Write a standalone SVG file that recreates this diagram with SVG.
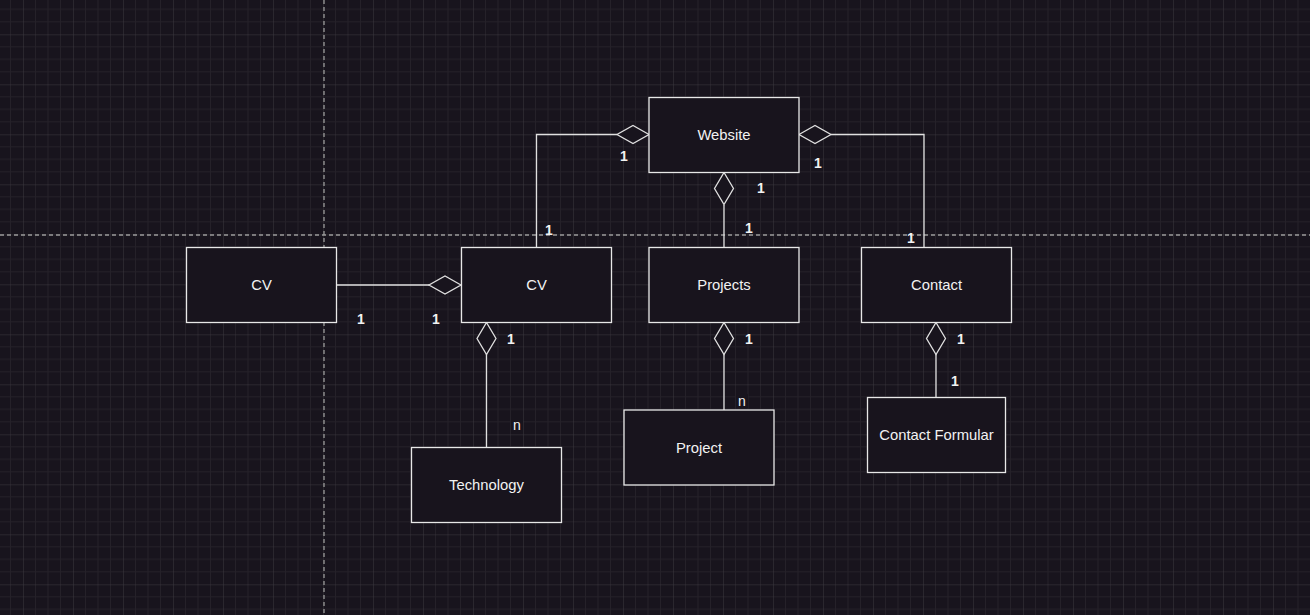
<svg xmlns="http://www.w3.org/2000/svg" width="1310" height="615" viewBox="0 0 1310 615">
<defs>
<pattern id="grid" x="23" y="34.3" width="50" height="50" patternUnits="userSpaceOnUse">
<path d="M12.5 0V50M25 0V50M37.5 0V50M0 12.5H50M0 25H50M0 37.5H50" stroke="#252129" stroke-width="1" fill="none"/>
<path d="M0 0V50M0 0H50" stroke="#3c3940" stroke-width="1" fill="none"/>
</pattern>
<style>
.box{fill:#18141d;stroke:#e8e8e8;stroke-width:1.3}
.lbl{font-family:"Liberation Sans",Arial,sans-serif;font-size:14.8px;fill:#f2f2f2;text-anchor:middle}
.card{font-family:"Liberation Sans",Arial,sans-serif;font-size:14px;font-weight:bold;fill:#f2f2f2;text-anchor:middle}
.cardn{font-family:"Liberation Sans",Arial,sans-serif;font-size:14px;fill:#f2f2f2;text-anchor:middle}
.ln{fill:none;stroke:#e0e0e0;stroke-width:1.3}
.dia{fill:#18141d;stroke:#e0e0e0;stroke-width:1.3}
.guide{stroke:#9a9a9a;stroke-width:1.3;stroke-dasharray:4 3;fill:none}
</style>
</defs>
<rect width="1310" height="615" fill="#18141d"/>
<rect width="1310" height="615" fill="url(#grid)"/>
<g id="guides">
<line class="guide" x1="324" y1="0" x2="324" y2="615"/>
<line class="guide" x1="0" y1="235" x2="1310" y2="235"/>
</g>
<g id="connectors">
<path class="ln" d="M536.5 247V134.5H617"/>
<path class="dia" d="M649 134.5L633 125.5L617 134.5L633 143.5Z"/>
<path class="ln" d="M924 247V134.5H831"/>
<path class="dia" d="M799 134.5L815 125.5L831 134.5L815 143.5Z"/>
<path class="ln" d="M724 247V205"/>
<path class="dia" d="M724 172.5L733.5 188.5L724 204.5L714.5 188.5Z"/>
<path class="ln" d="M336.5 285H429"/>
<path class="dia" d="M461 285L445 276L429 285L445 294Z"/>
<path class="ln" d="M486.5 354V447"/>
<path class="dia" d="M486.5 322.5L496 338.5L486.5 354.5L477 338.5Z"/>
<path class="ln" d="M724 354V410"/>
<path class="dia" d="M724 322.5L733.5 338.5L724 354.5L714.5 338.5Z"/>
<path class="ln" d="M936 354V397"/>
<path class="dia" d="M936 322.5L945.5 338.5L936 354.5L926.5 338.5Z"/>
<text class="card" x="624" y="161">1</text>
<text class="card" x="818" y="168">1</text>
<text class="card" x="761" y="193">1</text>
<text class="card" x="749" y="233">1</text>
<text class="card" x="549" y="235">1</text>
<text class="card" x="911" y="243">1</text>
<text class="card" x="361" y="324">1</text>
<text class="card" x="436" y="324">1</text>
<text class="card" x="511" y="344">1</text>
<text class="card" x="749" y="344">1</text>
<text class="card" x="961" y="344">1</text>
<text class="card" x="955" y="386">1</text>
<rect x="511" y="418" width="12" height="14" fill="#18141d"/>
<text class="cardn" x="517" y="430">n</text>
<rect x="736" y="394" width="12" height="14" fill="#18141d"/>
<text class="cardn" x="742" y="406">n</text>
</g>
<g id="website"><rect class="box" x="649" y="97.5" width="150" height="75"/><text class="lbl" x="724" y="140">Website</text></g>
<g id="cv-left"><rect class="box" x="186.5" y="247.5" width="150" height="75"/><text class="lbl" x="261.5" y="290">CV</text></g>
<g id="cv"><rect class="box" x="461.5" y="247.5" width="150" height="75"/><text class="lbl" x="536.5" y="290">CV</text></g>
<g id="projects"><rect class="box" x="649" y="247.5" width="150" height="75"/><text class="lbl" x="724" y="290">Projects</text></g>
<g id="contact"><rect class="box" x="861.5" y="247.5" width="150" height="75"/><text class="lbl" x="936.5" y="290">Contact</text></g>
<g id="technology"><rect class="box" x="411.5" y="447.5" width="150" height="75"/><text class="lbl" x="486.5" y="490">Technology</text></g>
<g id="project"><rect class="box" x="624" y="410" width="150" height="75"/><text class="lbl" x="699" y="452.5">Project</text></g>
<g id="contact-formular"><rect class="box" x="867.5" y="397.5" width="138" height="75"/><text class="lbl" x="936.5" y="440">Contact Formular</text></g>
</svg>
